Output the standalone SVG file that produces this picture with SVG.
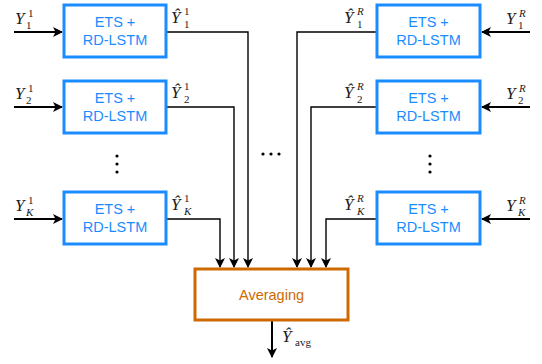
<svg xmlns="http://www.w3.org/2000/svg" width="542" height="364" viewBox="0 0 542 364">
<style>
.box{fill:#fff;stroke:#1a8cff;stroke-width:3}
.bt{font-family:"Liberation Sans",Arial,sans-serif;font-size:14.5px;fill:#1a8cff;text-anchor:middle}
.avg{fill:#fff;stroke:#cc6a00;stroke-width:3}
.at{font-family:"Liberation Sans",Arial,sans-serif;font-size:14.5px;fill:#cc6a00;text-anchor:middle}
.m{font-family:"Liberation Serif","Times New Roman",serif;font-style:italic;font-size:17px;fill:#222}
.s{font-family:"Liberation Serif","Times New Roman",serif;font-size:11px;fill:#222;font-style:normal}
.si{font-family:"Liberation Serif","Times New Roman",serif;font-size:11px;fill:#222;font-style:italic}
.in{stroke:#000;stroke-width:2;fill:none}
.ln{stroke:#000;stroke-width:1.4;fill:none}
</style>
<defs>
<marker id="ah" viewBox="0 0 10 10" refX="9" refY="5" markerWidth="10" markerHeight="10" markerUnits="userSpaceOnUse" orient="auto">
<path d="M0,0 L10,5 L0,10 L2.5,5 Z" fill="#000"/>
</marker>
</defs>
<g id="connectors">
<line class="in" x1="14" y1="32" x2="62" y2="32" marker-end="url(#ah)"/>
<line class="in" x1="14" y1="107" x2="62" y2="107" marker-end="url(#ah)"/>
<line class="in" x1="14" y1="219" x2="62" y2="219" marker-end="url(#ah)"/>
<line class="in" x1="530" y1="32" x2="482" y2="32" marker-end="url(#ah)"/>
<line class="in" x1="530" y1="107" x2="482" y2="107" marker-end="url(#ah)"/>
<line class="in" x1="530" y1="219" x2="482" y2="219" marker-end="url(#ah)"/>
<polyline class="ln" points="166,32 248,32 248,267" marker-end="url(#ah)"/>
<polyline class="ln" points="166,107 234,107 234,267" marker-end="url(#ah)"/>
<polyline class="ln" points="166,219 220,219 220,267" marker-end="url(#ah)"/>
<polyline class="ln" points="377,32 297,32 297,267" marker-end="url(#ah)"/>
<polyline class="ln" points="377,107 311,107 311,267" marker-end="url(#ah)"/>
<polyline class="ln" points="377,219 326,219 326,267" marker-end="url(#ah)"/>
<line class="in" x1="272" y1="321" x2="272" y2="357" marker-end="url(#ah)"/>
</g>
<g id="l1"><rect class="box" x="64" y="5" width="102" height="52"/><text class="bt" x="115" y="27">ETS +</text><text class="bt" x="115" y="45">RD-LSTM</text></g>
<g id="l2"><rect class="box" x="64" y="81" width="102" height="52"/><text class="bt" x="115" y="103">ETS +</text><text class="bt" x="115" y="121">RD-LSTM</text></g>
<g id="lK"><rect class="box" x="64" y="192" width="102" height="52"/><text class="bt" x="115" y="214">ETS +</text><text class="bt" x="115" y="232">RD-LSTM</text></g>
<g id="r1"><rect class="box" x="377" y="5" width="103" height="52"/><text class="bt" x="428.500" y="27">ETS +</text><text class="bt" x="428.500" y="45">RD-LSTM</text></g>
<g id="r2"><rect class="box" x="377" y="81" width="103" height="52"/><text class="bt" x="428.500" y="103">ETS +</text><text class="bt" x="428.500" y="121">RD-LSTM</text></g>
<g id="rK"><rect class="box" x="377" y="192" width="103" height="52"/><text class="bt" x="428.500" y="214">ETS +</text><text class="bt" x="428.500" y="232">RD-LSTM</text></g>
<g id="averaging"><rect class="avg" x="195" y="269" width="153" height="51"/><text class="at" x="271.500" y="300">Averaging</text></g>
<g id="dots">
<circle cx="117" cy="156" r="1.6" fill="#000"/><circle cx="117" cy="164" r="1.6" fill="#000"/><circle cx="117" cy="172" r="1.6" fill="#000"/>
<circle cx="430" cy="156" r="1.6" fill="#000"/><circle cx="430" cy="164" r="1.6" fill="#000"/><circle cx="430" cy="172" r="1.6" fill="#000"/>
<circle cx="263" cy="154" r="1.6" fill="#000"/><circle cx="271" cy="154" r="1.6" fill="#000"/><circle cx="279" cy="154" r="1.6" fill="#000"/>
</g>
<g id="labels">
<text class="m" x="15" y="24">Y</text><text class="s" x="28" y="17">1</text><text class="s" x="26" y="29">1</text>
<text class="m" x="15" y="99">Y</text><text class="s" x="28" y="92">1</text><text class="s" x="26" y="104">2</text>
<text class="m" x="15" y="211">Y</text><text class="s" x="28" y="204">1</text><text class="si" x="26" y="216">K</text>
<text class="m" x="171" y="23">Ŷ</text><text class="s" x="184" y="15">1</text><text class="s" x="184" y="28">1</text>
<text class="m" x="171" y="98">Ŷ</text><text class="s" x="184" y="90">1</text><text class="s" x="184" y="103">2</text>
<text class="m" x="171" y="210">Ŷ</text><text class="s" x="184" y="202">1</text><text class="si" x="184" y="215">K</text>
<text class="m" x="344" y="23">Ŷ</text><text class="si" x="357" y="15">R</text><text class="s" x="357" y="28">1</text>
<text class="m" x="344" y="98">Ŷ</text><text class="si" x="357" y="90">R</text><text class="s" x="357" y="103">2</text>
<text class="m" x="344" y="210">Ŷ</text><text class="si" x="357" y="202">R</text><text class="si" x="357" y="215">K</text>
<text class="m" x="506" y="24">Y</text><text class="si" x="519" y="17">R</text><text class="s" x="518" y="29">1</text>
<text class="m" x="506" y="99">Y</text><text class="si" x="519" y="92">R</text><text class="s" x="518" y="104">2</text>
<text class="m" x="506" y="211">Y</text><text class="si" x="519" y="204">R</text><text class="si" x="518" y="216">K</text>
<text class="m" x="282" y="342">Ŷ</text><text class="s" x="295" y="346">avg</text>
</g>
</svg>
